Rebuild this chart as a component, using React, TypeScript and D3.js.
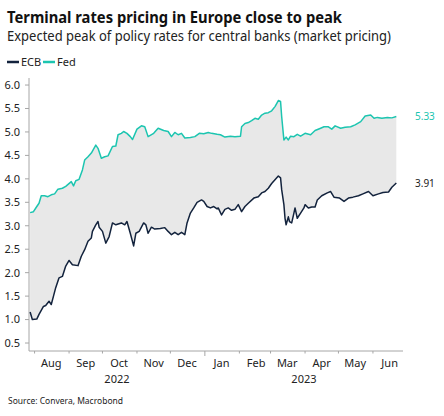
import React from 'react'
import * as d3 from 'd3'

// Expected peak policy rate, Fed (market pricing)
const fedDates = [
  '2022-07-28', '2022-07-31', '2022-08-03', '2022-08-05', '2022-08-07', '2022-08-10', '2022-08-13', '2022-08-16',
  '2022-08-19', '2022-08-22', '2022-08-26', '2022-08-29', '2022-09-03', '2022-09-05', '2022-09-07', '2022-09-10',
  '2022-09-13', '2022-09-15', '2022-09-18', '2022-09-21', '2022-09-25', '2022-09-27', '2022-09-30', '2022-10-03',
  '2022-10-06', '2022-10-10', '2022-10-13', '2022-10-15', '2022-10-18', '2022-10-20', '2022-10-23', '2022-10-26',
  '2022-10-28', '2022-11-01', '2022-11-05', '2022-11-08', '2022-11-11', '2022-11-16', '2022-11-20', '2022-11-25',
  '2022-11-29', '2022-12-02', '2022-12-05', '2022-12-08', '2022-12-11', '2022-12-14', '2022-12-19', '2022-12-23',
  '2022-12-27', '2022-12-31', '2023-01-04', '2023-01-07', '2023-01-12', '2023-01-15', '2023-01-19', '2023-01-24',
  '2023-01-28', '2023-02-02', '2023-02-03', '2023-02-06', '2023-02-09', '2023-02-12', '2023-02-15', '2023-02-18',
  '2023-02-21', '2023-02-24', '2023-02-27', '2023-03-02', '2023-03-05', '2023-03-08', '2023-03-10', '2023-03-11',
  '2023-03-13', '2023-03-15', '2023-03-17', '2023-03-19', '2023-03-22', '2023-03-25', '2023-03-28', '2023-04-01',
  '2023-04-06', '2023-04-10', '2023-04-15', '2023-04-18', '2023-04-22', '2023-04-25', '2023-04-28', '2023-05-03',
  '2023-05-07', '2023-05-12', '2023-05-16', '2023-05-21', '2023-05-25', '2023-05-30', '2023-06-02', '2023-06-05',
  '2023-06-09', '2023-06-14', '2023-06-18', '2023-06-22',
]
const fedValues = [
  3.28, 3.3, 3.41, 3.48, 3.64, 3.64, 3.62, 3.66,
  3.68, 3.78, 3.8, 3.84, 3.94, 3.85, 3.96, 3.99,
  4.19, 4.4, 4.47, 4.55, 4.72, 4.65, 4.44, 4.47,
  4.49, 4.69, 4.7, 4.94, 4.97, 5.01, 4.97, 4.9,
  4.84, 5.06, 5.13, 5.11, 4.9, 4.97, 5.08, 5.03,
  5.01, 4.9, 4.99, 4.94, 4.97, 4.87, 4.88, 4.9,
  4.97, 4.96, 4.99, 4.97, 4.95, 4.94, 4.89, 4.91,
  4.9, 4.91, 5.11, 5.18, 5.2, 5.24, 5.29, 5.27,
  5.36, 5.4, 5.41, 5.45, 5.54, 5.67, 5.65, 5.33,
  4.83, 4.89, 4.83, 4.91, 4.9, 4.95, 4.91, 4.97,
  4.94, 5.03, 5.08, 5.11, 5.11, 5.06, 5.13, 5.08,
  5.1, 5.11, 5.15, 5.22, 5.34, 5.36, 5.29, 5.31,
  5.29, 5.31, 5.3, 5.33,
]

// Expected peak policy rate, ECB (market pricing)
const ecbDates = [
  '2022-07-28', '2022-07-30', '2022-08-03', '2022-08-05', '2022-08-09', '2022-08-11', '2022-08-14', '2022-08-16',
  '2022-08-18', '2022-08-20', '2022-08-23', '2022-08-26', '2022-08-29', '2022-09-01', '2022-09-04', '2022-09-09',
  '2022-09-12', '2022-09-15', '2022-09-18', '2022-09-21', '2022-09-22', '2022-09-25', '2022-09-27', '2022-09-28',
  '2022-10-01', '2022-10-04', '2022-10-07', '2022-10-10', '2022-10-13', '2022-10-18', '2022-10-21', '2022-10-23',
  '2022-10-26', '2022-10-29', '2022-10-31', '2022-11-03', '2022-11-07', '2022-11-09', '2022-11-11', '2022-11-14',
  '2022-11-17', '2022-11-22', '2022-11-26', '2022-11-29', '2022-12-02', '2022-12-05', '2022-12-08', '2022-12-11',
  '2022-12-14', '2022-12-16', '2022-12-19', '2022-12-22', '2022-12-25', '2022-12-29', '2022-12-31', '2023-01-03',
  '2023-01-06', '2023-01-09', '2023-01-12', '2023-01-13', '2023-01-16', '2023-01-19', '2023-01-22', '2023-01-25',
  '2023-01-28', '2023-01-31', '2023-02-03', '2023-02-06', '2023-02-09', '2023-02-14', '2023-02-18', '2023-02-21',
  '2023-02-24', '2023-02-27', '2023-03-02', '2023-03-05', '2023-03-08', '2023-03-10', '2023-03-11', '2023-03-13',
  '2023-03-14', '2023-03-15', '2023-03-17', '2023-03-18', '2023-03-20', '2023-03-22', '2023-03-23', '2023-03-25',
  '2023-03-28', '2023-03-31', '2023-04-01', '2023-04-04', '2023-04-07', '2023-04-10', '2023-04-12', '2023-04-16',
  '2023-04-21', '2023-04-24', '2023-04-27', '2023-05-02', '2023-05-06', '2023-05-10', '2023-05-14', '2023-05-19',
  '2023-05-23', '2023-05-28', '2023-06-01', '2023-06-06', '2023-06-10', '2023-06-15', '2023-06-18', '2023-06-22',
]
const ecbValues = [
  1.16, 1.0, 1.01, 1.11, 1.28, 1.3, 1.39, 1.32,
  1.5, 1.68, 1.89, 1.92, 2.14, 2.26, 2.17, 2.15,
  2.35, 2.49, 2.67, 2.74, 2.88, 3.02, 3.09, 2.97,
  2.88, 2.63, 2.77, 3.06, 3.02, 3.06, 3.02, 3.09,
  2.84, 2.57, 2.84, 2.88, 3.06, 3.02, 2.84, 2.97,
  2.93, 2.94, 2.96, 2.88, 2.81, 2.86, 2.81, 2.86,
  2.81, 3.06, 3.27, 3.38, 3.5, 3.55, 3.52, 3.41,
  3.38, 3.41, 3.36, 3.38, 3.23, 3.35, 3.38, 3.33,
  3.35, 3.45, 3.3, 3.41, 3.48, 3.59, 3.62, 3.7,
  3.73, 3.8, 3.9, 3.98, 4.06, 4.02, 3.77, 3.45,
  3.16, 3.02, 3.19, 3.09, 3.06, 3.27, 3.38, 3.16,
  3.27, 3.38, 3.45, 3.38, 3.4, 3.4, 3.55, 3.64,
  3.7, 3.73, 3.61, 3.59, 3.52, 3.59, 3.61, 3.64,
  3.68, 3.73, 3.64, 3.68, 3.71, 3.72, 3.82, 3.91,
]

const yTicks = [0.5, 1.0, 1.5, 2.0, 2.5, 3.0, 3.5, 4.0, 4.5, 5.0, 5.5, 6.0]
const monthLabels = ['Aug', 'Sep', 'Oct', 'Nov', 'Dec', 'Jan', 'Feb', 'Mar', 'Apr', 'May', 'Jun']
const yearLabels = ['2022', '2023']
const seriesNames = ['ECB', 'Fed']

const FED = '#1cc5b0'
const ECB = '#13233d'
const FONT = '"Segoe UI", "Noto Sans", "Open Sans", sans-serif'

const parse = d3.timeParse('%Y-%m-%d')

const App: React.FC = () => {
  const width = 444
  const height = 416

  const x = d3
    .scaleTime()
    .domain([new Date(2022, 6, 27), new Date(2023, 5, 28)])
    .range([29, 403])

  const y = d3.scaleLinear().domain([0.33, 6.15]).range([351, 78])

  const fed = fedDates.map((d, i) => [x(parse(d)!), y(fedValues[i])] as [number, number])
  const ecb = ecbDates.map((d, i) => [x(parse(d)!), y(ecbValues[i])] as [number, number])

  const line = d3.line()
  // shaded gap: fed forward, ecb back
  const band = line([...fed, ...ecb.slice().reverse()]) + 'Z'

  const monthStarts = d3.timeMonth.range(new Date(2022, 7, 1), new Date(2023, 6, 1))
  const [x0, x1] = x.domain()
  const yearStart = new Date(2023, 0, 1)
  const yearMid = [
    (x(x0) + x(yearStart)) / 2,
    (x(yearStart) + x(x1)) / 2,
  ]

  const lastFed = fedValues[fedValues.length - 1]
  const lastEcb = ecbValues[ecbValues.length - 1]

  return (
    <svg
      width={width}
      height={height}
      style={{ position: 'absolute', left: 0, top: 0, background: '#fff' }}
      fontFamily={FONT}
    >
      <text x={7} y={23} fontSize={16} fontWeight={700} fill="#111" textLength={335} lengthAdjust="spacingAndGlyphs">
        Terminal rates pricing in Europe close to peak
      </text>
      <text x={7} y={41} fontSize={14} fill="#222" textLength={384} lengthAdjust="spacingAndGlyphs">
        Expected peak of policy rates for central banks (market pricing)
      </text>

      {/* legend */}
      <g fontSize={11} fill="#222">
        <line x1={7} x2={19} y1={62} y2={62} stroke={ECB} strokeWidth={2.5} />
        <text x={21} y={66}>{seriesNames[0]}</text>
        <line x1={43} x2={55} y1={62} y2={62} stroke={FED} strokeWidth={2.5} />
        <text x={57} y={66}>{seriesNames[1]}</text>
      </g>

      <path d={band} fill="#e8e8e8" stroke="none" />

      {/* y axis */}
      <line x1={29} x2={29} y1={y.range()[1]} y2={y.range()[0]} stroke="#a6a6a6" />
      {yTicks.map((t) => (
        <g key={t}>
          <line x1={25} x2={29} y1={y(t)} y2={y(t)} stroke="#a6a6a6" />
          <text x={20} y={y(t)} dy="0.35em" textAnchor="end" fontSize={11} fill="#222">
            {d3.format('.1f')(t)}
          </text>
        </g>
      ))}

      {/* x axis */}
      <line x1={29} x2={403} y1={351} y2={351} stroke="#a6a6a6" />
      {monthStarts.map((m, i) => {
        const mid = d3.timeDay.offset(m, 15)
        return (
          <g key={i}>
            <line
              x1={x(m)}
              x2={x(m)}
              y1={351}
              y2={m.getMonth() === 0 ? 356 : 353.5}
              stroke="#a6a6a6"
            />
            <text x={x(mid)} y={367} textAnchor="middle" fontSize={11} fill="#222">
              {monthLabels[i]}
            </text>
          </g>
        )
      })}
      {yearLabels.map((yl, i) => (
        <text key={yl} x={yearMid[i]} y={383} textAnchor="middle" fontSize={11} fill="#222">
          {yl}
        </text>
      ))}

      <path d={line(ecb)!} fill="none" stroke={ECB} strokeWidth={1.5} strokeLinejoin="round" />
      <path d={line(fed)!} fill="none" stroke={FED} strokeWidth={1.5} strokeLinejoin="round" />

      <text x={415} y={y(lastFed)} dy="0.35em" fontSize={10} fill={FED}>
        {d3.format('.2f')(lastFed)}
      </text>
      <text x={415} y={y(lastEcb)} dy="0.35em" fontSize={10} fill="#222">
        {d3.format('.2f')(lastEcb)}
      </text>

      <text x={8} y={404} fontSize={9} fill="#222" textLength={115} lengthAdjust="spacingAndGlyphs">
        Source: Convera, Macrobond
      </text>
    </svg>
  )
}

export default App
